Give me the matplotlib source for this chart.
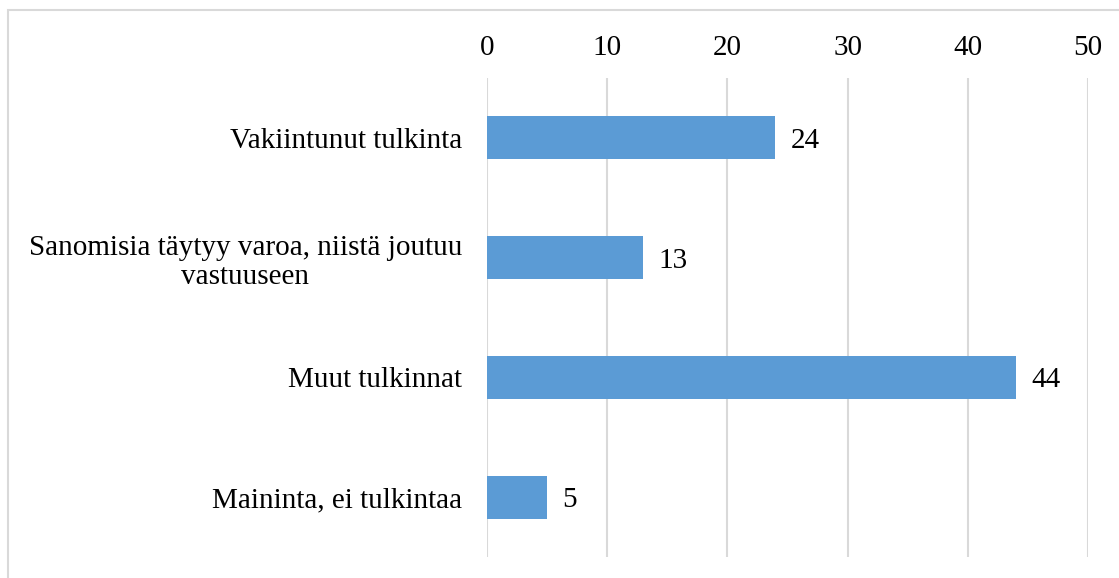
import matplotlib.pyplot as plt
from matplotlib.patches import Rectangle

plt.rcParams['font.family'] = ['Liberation Serif', 'DejaVu Serif']

categories = ['Vakiintunut tulkinta',
              'Sanomisia täytyy varoa, niistä joutuu\nvastuuseen',
              'Muut tulkinnat',
              'Maininta, ei tulkintaa']
values = [24, 13, 44, 5]
ticks = [0, 10, 20, 30, 40, 50]

barColor = '#5B9BD5'
gridColor = '#D9D9D9'
fs = 21

fig = plt.figure(figsize=(11.19, 5.78), dpi=100)
ax = fig.add_axes([487 / 1119, 21 / 578, 601 / 1119, 479 / 578])

# frame around the chart area, cut off at right and bottom
fig.patches.append(Rectangle((8 / 1119, -0.1), 1.2, 1.1 - 10 / 578,
                             transform=fig.transFigure, fill=False,
                             edgecolor=gridColor, linewidth=1.5))

pos = list(range(len(categories)))
ax.barh(pos, values, height=0.36, color=barColor, zorder=3)
for p, v in zip(pos, values):
    ax.text(v + 1.25, p, str(v), va='center_baseline', ha='left', fontsize=fs)

ax.set_ylim(len(categories) - 0.5, -0.5)
ax.set_xlim(0, 50)
ax.set_xticks(ticks)
ax.set_yticks(pos)
ax.set_yticklabels(categories, fontsize=fs, ha='right', multialignment='center',
                   linespacing=1.15)
ax.tick_params(axis='y', length=0, pad=18)
ax.xaxis.tick_top()
ax.tick_params(axis='x', length=0, labelsize=fs, pad=12)

ax.grid(axis='x', color=gridColor, linewidth=1.5, zorder=0)
for s in ax.spines.values():
    s.set_visible(False)

plt.savefig('out.png', dpi=100)
